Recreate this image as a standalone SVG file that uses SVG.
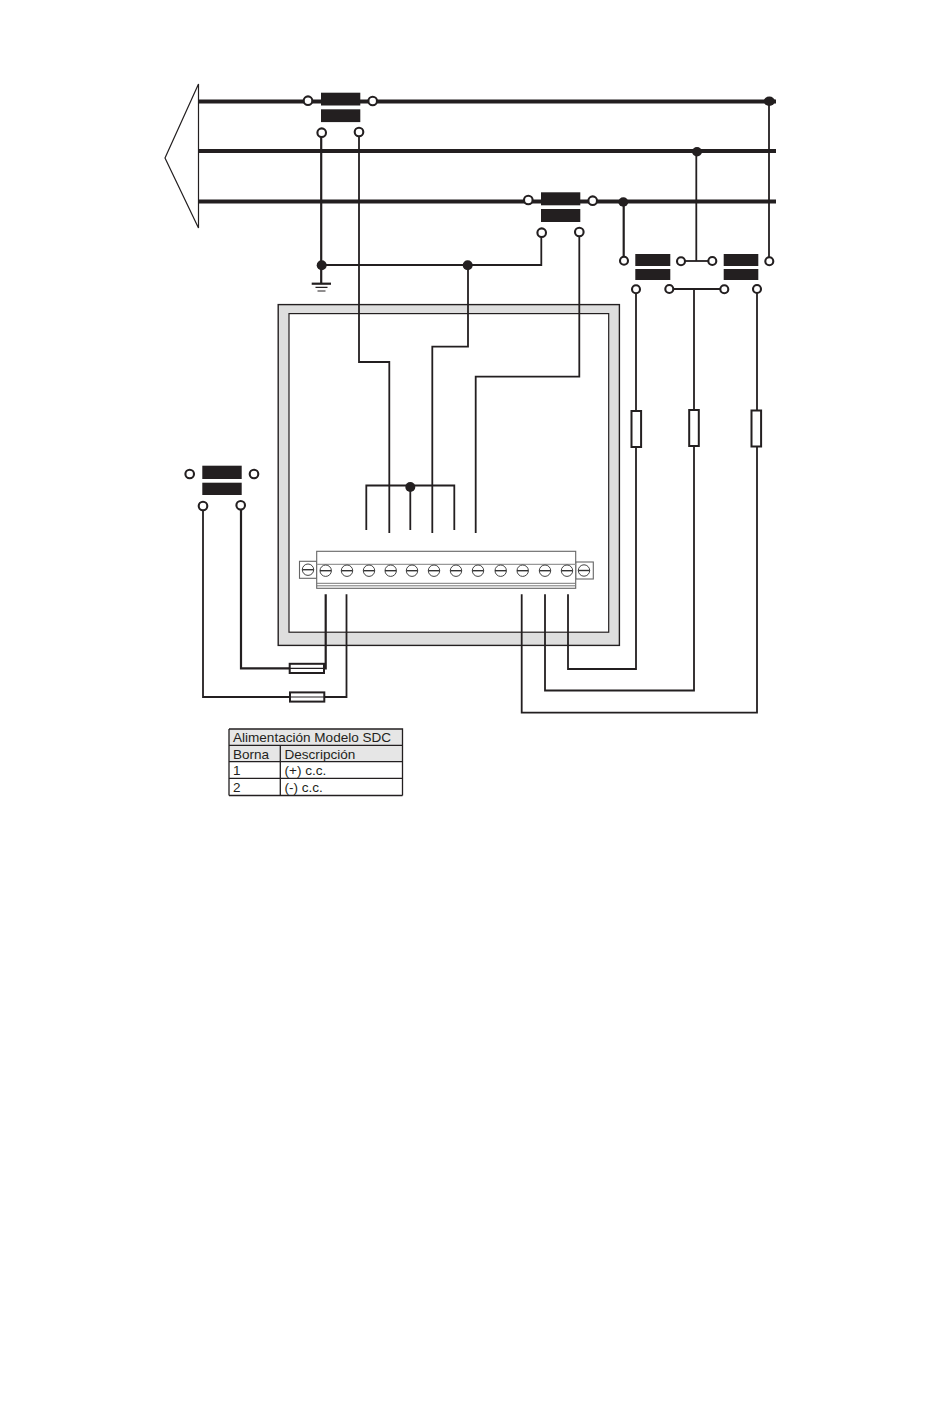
<svg xmlns="http://www.w3.org/2000/svg" width="950" height="1409" viewBox="0 0 950 1409">
<style>
.w{fill:none;stroke:#231f20;stroke-width:1.8}
.wt{fill:none;stroke:#231f20;stroke-width:2.2}
.bus{fill:none;stroke:#231f20;stroke-width:4}
.thin{fill:none;stroke:#231f20;stroke-width:1.2}
.ct{fill:#231f20}
.o{fill:#fff;stroke:#231f20;stroke-width:2.1}
.dot{fill:#231f20}
.fuse{fill:#fff;stroke:#231f20;stroke-width:2}
.scr{fill:#fff;stroke:#444;stroke-width:1}
.scl{stroke:#333;stroke-width:1.4}
.blk{fill:#fff;stroke:#666;stroke-width:1.1}
.t{font-family:"Liberation Sans",Arial,sans-serif;font-size:13.55px;fill:#231f20}
.tb{fill:none;stroke:#231f20;stroke-width:1.3}
</style>
<rect width="950" height="1409" fill="#fff"/>
<g id="enclosure">
<rect x="278.2" y="304.6" width="341.2" height="340.8" fill="#dedede" stroke="#231f20" stroke-width="1.4"/>
<rect x="289" y="313.6" width="319.7" height="318.6" fill="#fff" stroke="#231f20" stroke-width="1.2"/>
</g>
<g id="source">
<path class="thin" d="M198.5 84 L165 158 L198.5 228 Z" stroke-width="1.3"/>
</g>
<g id="connectors">
<path class="bus" d="M198.5 101.5H776M198.5 151H776M198.5 201.5H776"/>
<path class="wt" d="M321.2 136V283.5"/>
<path class="w" d="M359 136V362H389.3V533"/>
<path class="w" d="M321.7 265H541.3V237"/>
<path class="w" d="M468 265V346.7H432.3V533"/>
<path class="w" d="M579.3 236V376.7H475.7V533"/>
<path class="wt" d="M623.7 202V256"/>
<path class="w" d="M696.3 151.7V261"/>
<path class="w" d="M685 261H708"/>
<path class="w" d="M769 101.5V257"/>
<path class="wt" d="M673 289H720"/>
<path class="w" d="M636 293V669H568V594.3"/>
<path class="w" d="M694 289V690.5H545V594.3"/>
<path class="w" d="M757 293V712.7H521.7V594.3"/>
<path class="w" d="M366.3 530V485.5H454.3V530"/>
<path class="w" d="M410.3 487V530"/>
<path class="w" d="M203 510V697H346.5V594.3"/>
<path class="wt" d="M241 510V668.3H325.7V594.3" stroke-width="2"/>
<path class="wt" d="M311.7 283.7H331" stroke-width="1.5"/>
<path class="thin" d="M315.5 287.4H327.5M317.5 291H325.5"/>
</g>
<g id="ct-1">
<rect class="ct" x="321" y="92.7" width="39.3" height="12.8"/><rect class="ct" x="321" y="109.3" width="39.3" height="12.8"/>
<circle class="o" cx="308" cy="100.7" r="4.3"/><circle class="o" cx="372.7" cy="101" r="4.3"/><circle class="o" cx="321.7" cy="132.7" r="4.3"/><circle class="o" cx="359" cy="132" r="4.3"/>
</g>
<g id="ct-2">
<rect class="ct" x="541" y="192.3" width="39.3" height="13"/><rect class="ct" x="541" y="209" width="39.3" height="13"/>
<circle class="o" cx="528.3" cy="200" r="4.3"/><circle class="o" cx="592.7" cy="200.7" r="4.3"/><circle class="o" cx="541.7" cy="232.7" r="4.3"/><circle class="o" cx="579.3" cy="232" r="4.3"/>
</g>
<g id="ct-3">
<rect class="ct" x="635.3" y="254" width="35" height="12"/><rect class="ct" x="635.3" y="269" width="35" height="11"/>
<circle class="o" cx="624" cy="260.7" r="4"/><circle class="o" cx="681" cy="261.3" r="4"/><circle class="o" cx="636" cy="289.3" r="4"/><circle class="o" cx="669.3" cy="289" r="4"/>
</g>
<g id="ct-4">
<rect class="ct" x="723.7" y="254" width="34.6" height="12"/><rect class="ct" x="723.7" y="269" width="34.6" height="11"/>
<circle class="o" cx="712.3" cy="261" r="4"/><circle class="o" cx="769.3" cy="261.3" r="4"/><circle class="o" cx="724.3" cy="289.3" r="4"/><circle class="o" cx="757" cy="289" r="4"/>
</g>
<g id="ct-5">
<rect class="ct" x="202.3" y="465.7" width="39.4" height="13.3"/><rect class="ct" x="202.3" y="482.7" width="39.4" height="12.3"/>
<circle class="o" cx="189.7" cy="474" r="4.3"/><circle class="o" cx="254" cy="474" r="4.3"/><circle class="o" cx="203" cy="506" r="4.3"/><circle class="o" cx="240.7" cy="505.3" r="4.3"/>
</g>
<g id="junctions">
<circle class="dot" cx="321.7" cy="265.3" r="5"/><circle class="dot" cx="467.7" cy="265.3" r="5"/>
<ellipse class="dot" cx="623.3" cy="202" rx="5" ry="4.7"/><ellipse class="dot" cx="697" cy="151.7" rx="5" ry="4.7"/><ellipse class="dot" cx="769.3" cy="101.3" rx="5.6" ry="4.7"/>
<circle class="dot" cx="410.3" cy="487" r="5"/>
</g>
<g id="fuses">
<rect class="fuse" x="631.5" y="411" width="9.6" height="36"/>
<rect class="fuse" x="689.2" y="410" width="9.6" height="36"/>
<rect class="fuse" x="751.5" y="410.5" width="9.6" height="36"/>
<rect class="fuse" x="289.7" y="663.8" width="34.3" height="9.2"/>
<path class="thin" d="M289.7 668.3H324"/>
<rect class="fuse" x="290" y="692.4" width="34.3" height="9.2"/>
<path class="thin" d="M290 697H324.3"/>
</g>
<g id="terminal-block">
<rect class="blk" x="299.5" y="561.3" width="17.2" height="17"/>
<rect class="blk" x="575.7" y="562" width="17.6" height="17"/>
<rect class="blk" x="316.7" y="551.3" width="259" height="37" stroke-width="1.2"/>
<path d="M316.7 564.3H575.7" stroke="#999" stroke-width="1.2" fill="none"/>
<path d="M316.7 583.3H575.7M316.7 585.8H575.7" stroke="#777" stroke-width="1" fill="none"/>
<g>
<circle class="scr" cx="308" cy="569.7" r="5.7"/><path class="scl" d="M302.3 569.7h11.4"/>
<circle class="scr" cx="325.7" cy="570.7" r="5.7"/><path class="scl" d="M320 570.7h11.4"/>
<circle class="scr" cx="347" cy="570.7" r="5.7"/><path class="scl" d="M341.3 570.7h11.4"/>
<circle class="scr" cx="369" cy="570.7" r="5.7"/><path class="scl" d="M363.3 570.7h11.4"/>
<circle class="scr" cx="390.7" cy="570.7" r="5.7"/><path class="scl" d="M385 570.7h11.4"/>
<circle class="scr" cx="412" cy="570.7" r="5.7"/><path class="scl" d="M406.3 570.7h11.4"/>
<circle class="scr" cx="434" cy="570.7" r="5.7"/><path class="scl" d="M428.3 570.7h11.4"/>
<circle class="scr" cx="456" cy="570.7" r="5.7"/><path class="scl" d="M450.3 570.7h11.4"/>
<circle class="scr" cx="478" cy="570.7" r="5.7"/><path class="scl" d="M472.3 570.7h11.4"/>
<circle class="scr" cx="500.7" cy="570.7" r="5.7"/><path class="scl" d="M495 570.7h11.4"/>
<circle class="scr" cx="522.7" cy="570.7" r="5.7"/><path class="scl" d="M517 570.7h11.4"/>
<circle class="scr" cx="545" cy="570.7" r="5.7"/><path class="scl" d="M539.3 570.7h11.4"/>
<circle class="scr" cx="567" cy="570.7" r="5.7"/><path class="scl" d="M561.3 570.7h11.4"/>
<circle class="scr" cx="584" cy="570.5" r="5.7"/><path class="scl" d="M578.3 570.5h11.4"/>
</g>
</g>
<g id="table">
<rect x="229" y="729" width="173.5" height="33" fill="#e6e6e6"/>
<path class="tb" d="M229 729H402.5V795.5M229 729V795.5M229 745.3H402.5M229 761.7H402.5M229 778.3H402.5M229 795.5H402.5M280.3 745.3V795.5"/>
<text class="t" x="233" y="742">Alimentación Modelo SDC</text>
<text class="t" x="233" y="759">Borna</text>
<text class="t" x="284.5" y="759">Descripción</text>
<text class="t" x="233" y="775">1</text>
<text class="t" x="284.5" y="775">(+) c.c.</text>
<text class="t" x="233" y="792">2</text>
<text class="t" x="284.5" y="792">(-) c.c.</text>
</g>
</svg>
